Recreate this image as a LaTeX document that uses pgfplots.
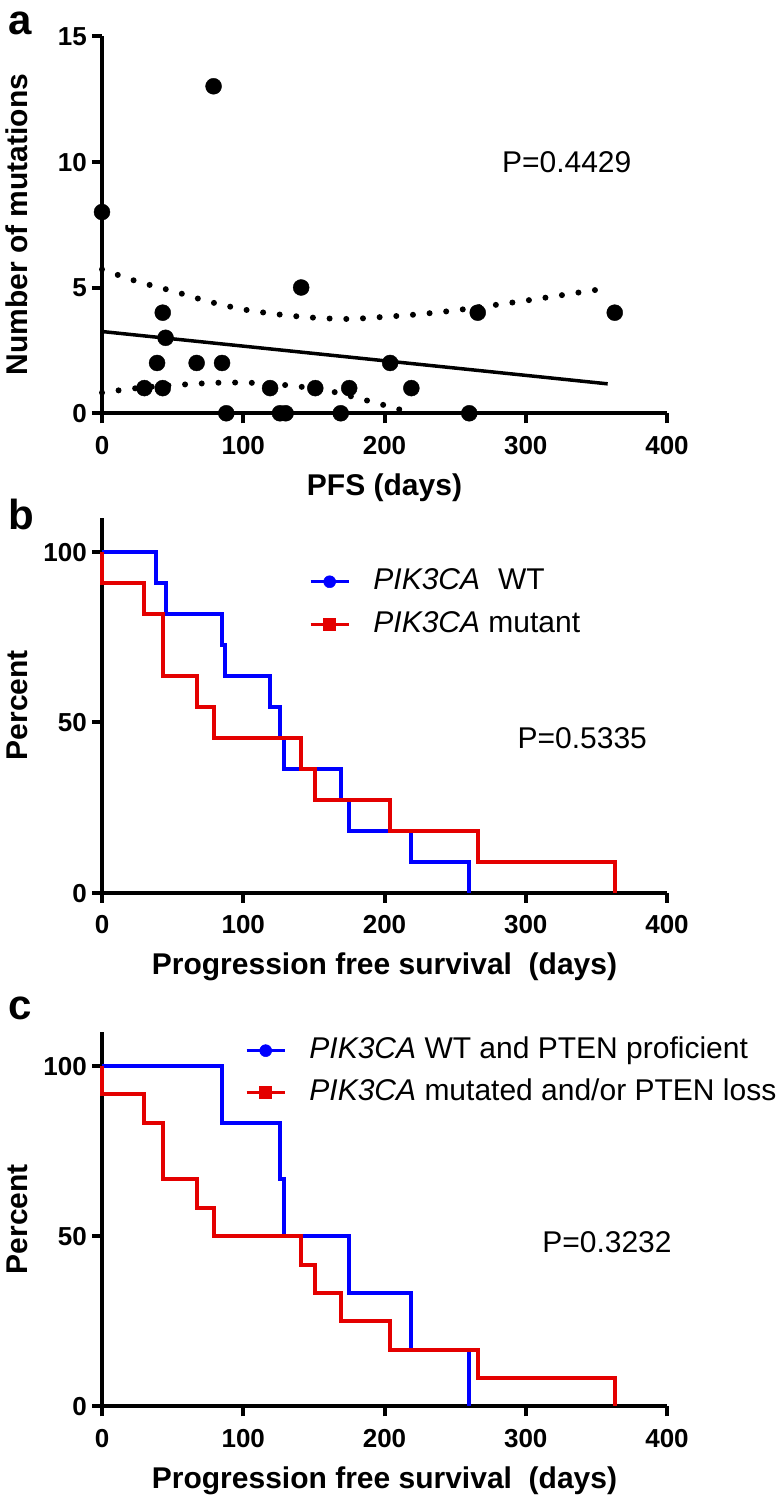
\documentclass[border=0pt]{standalone}
\usepackage{fontspec}
\setmainfont{Liberation Sans}
\usepackage{pgfplots}
\pgfplotsset{compat=1.18}

\definecolor{kmblue}{RGB}{0,0,255}
\definecolor{kmred}{RGB}{228,0,0}

\pgfplotsset{
  panel/.style={
    scale only axis, width=565bp,
    axis lines*=left,
    axis line style={line width=4bp, black},
    tick align=outside, major tick length=10bp,
    tick style={line width=4bp, black},
    xmin=0, xmax=400, xtick={0,100,200,300,400},
    tick label style={font=\fontsize{26bp}{30bp}\selectfont\bfseries},
    /pgf/number format/assume math mode=true,
    xticklabel style={anchor=base, inner sep=0pt, yshift=-31bp},
    yticklabel style={anchor=base east, inner sep=0pt, xshift=-5bp, yshift=-9.3bp},
    label style={font=\fontsize{30bp}{36bp}\selectfont\bfseries},
    xlabel style={at={(axis description cs:0.5,0)}, anchor=base, yshift=-82bp},
    ylabel style={at={(axis description cs:-0.13274,0.5)}, anchor=base},
    clip=false,
    legend cell align=left,
    legend image code/.code={\draw[mark repeat=2,mark phase=2,#1] plot coordinates {(0bp,0bp) (19bp,0bp) (38bp,0bp)};},
  },
  kmlegend/.style={
    legend style={draw=none, fill=none, inner sep=0pt, outer sep=0pt,
      font=\fontsize{30bp}{36bp}\selectfont,
      nodes={inner sep=0pt, text height=22bp, text depth=6bp},
      /tikz/every odd column/.style={column sep=23bp}},
  },
}

\pgfplotstableread{
x y
0 8
79 13
141 5
43 4
45 3
39 2
67 2
85 2
30 1
43 1
119 1
151 1
175 1
204 2
219 1
88 0
126 0
130 0
169 0
260 0
266 4
363 4
}\scatterdata

\begin{document}
\begin{tikzpicture}[x=1bp,y=1bp]
\useasboundingbox (0,0) rectangle (783,1502);

% ---------------- panel a ----------------
\begin{axis}[panel, at={(102bp,1088.7bp)}, anchor=south west, height=377.3bp,
  ymin=0, ymax=15, ytick={0,5,10,15},
  xlabel={PFS (days)}, ylabel={Number of mutations}]
\addplot[black, line width=6bp, line cap=round, dash pattern=on 0bp off 16.7bp, smooth]
  coordinates {(0,5.72) (25,5.24) (50,4.86) (75,4.45) (100,4.13) (125,3.93) (150,3.80) (175,3.75) (199,3.83) (223,3.93) (247,4.07) (271,4.25) (294,4.43) (318,4.63) (342,4.84) (358,4.97)};
\addplot[black, line width=6bp, line cap=round, dash pattern=on 0bp off 16.7bp, smooth]
  coordinates {(0,0.82) (20,0.97) (40,1.08) (60,1.15) (80,1.21) (100,1.22) (120,1.17) (140,1.06) (160,0.90) (180,0.62) (200,0.32) (215,0.08)};
\addplot[black, line width=3.5bp] coordinates {(0,3.25) (358,1.17)};
\addplot[only marks, mark=*, mark size=8bp, black] table {\scatterdata};
\node[font=\fontsize{30bp}{36bp}\selectfont] at (axis cs:329,10) {P=0.4429};
\end{axis}

% ---------------- panel b ----------------
\begin{axis}[panel, kmlegend, at={(102bp,609bp)}, anchor=south west, height=375.4bp,
  ymin=0, ymax=110, ytick={0,50,100},
  xlabel={Progression free survival\ \ (days)}, ylabel={Percent},
  legend style={at={(axis cs:146.5,95.3)}, anchor=north west, row sep=15bp}]
\addplot[kmblue, line width=4bp, const plot, forget plot] coordinates {(0,100) (38,90.91) (45,81.82) (85,72.73) (87,63.64) (119,54.55) (126,45.45) (129,36.36) (169,27.27) (175,18.18) (219,9.09) (260,0)};
\addplot[kmred, line width=4bp, const plot, forget plot] coordinates {(0,100) (0,90.91) (30,81.82) (43,63.64) (67,54.55) (79,45.45) (141,36.36) (151,27.27) (204,18.18) (266,9.09) (363,0)};
\addlegendimage{kmblue, line width=3.5bp, mark=*, mark size=6bp, mark options={line width=0.5bp}}
\addlegendentry{\textit{PIK3CA}\hspace{0.6em}WT}
\addlegendimage{kmred, line width=3.5bp, mark=square*, mark size=6bp, mark options={line width=0.5bp}}
\addlegendentry{\textit{PIK3CA} mutant}
\node[font=\fontsize{30bp}{36bp}\selectfont] at (axis cs:340,45.4) {P=0.5335};
\end{axis}

% ---------------- panel c ----------------
\begin{axis}[panel, kmlegend, at={(102bp,95.5bp)}, anchor=south west, height=374.6bp,
  ymin=0, ymax=110, ytick={0,50,100},
  xlabel={Progression free survival\ \ (days)}, ylabel={Percent},
  legend style={at={(axis cs:101.2,108.6)}, anchor=north west, row sep=14bp}]
\addplot[kmblue, line width=4bp, const plot, forget plot] coordinates {(0,100) (85,83.33) (126,66.67) (129,50) (175,33.33) (219,16.67) (260,0)};
\addplot[kmred, line width=4bp, const plot, forget plot] coordinates {(0,100) (0,91.67) (30,83.33) (43,66.67) (67,58.33) (79,50) (141,41.67) (151,33.33) (169,25) (204,16.67) (266,8.33) (363,0)};
\addlegendimage{kmblue, line width=3.5bp, mark=*, mark size=6bp, mark options={line width=0.5bp}}
\addlegendentry{\textit{PIK3CA} WT and PTEN proficient}
\addlegendimage{kmred, line width=3.5bp, mark=square*, mark size=6bp, mark options={line width=0.5bp}}
\addlegendentry{\textit{PIK3CA} mutated and/or PTEN loss}
\node[font=\fontsize{30bp}{36bp}\selectfont] at (axis cs:357.5,48.3) {P=0.3232};
\end{axis}

\node[anchor=base west, inner sep=0pt, font=\fontsize{42bp}{48bp}\selectfont\bfseries] at (8,1467) {a};
\node[anchor=base west, inner sep=0pt, font=\fontsize{42bp}{48bp}\selectfont\bfseries] at (8,972) {b};
\node[anchor=base west, inner sep=0pt, font=\fontsize{42bp}{48bp}\selectfont\bfseries] at (8,482) {c};
\end{tikzpicture}
\end{document}
